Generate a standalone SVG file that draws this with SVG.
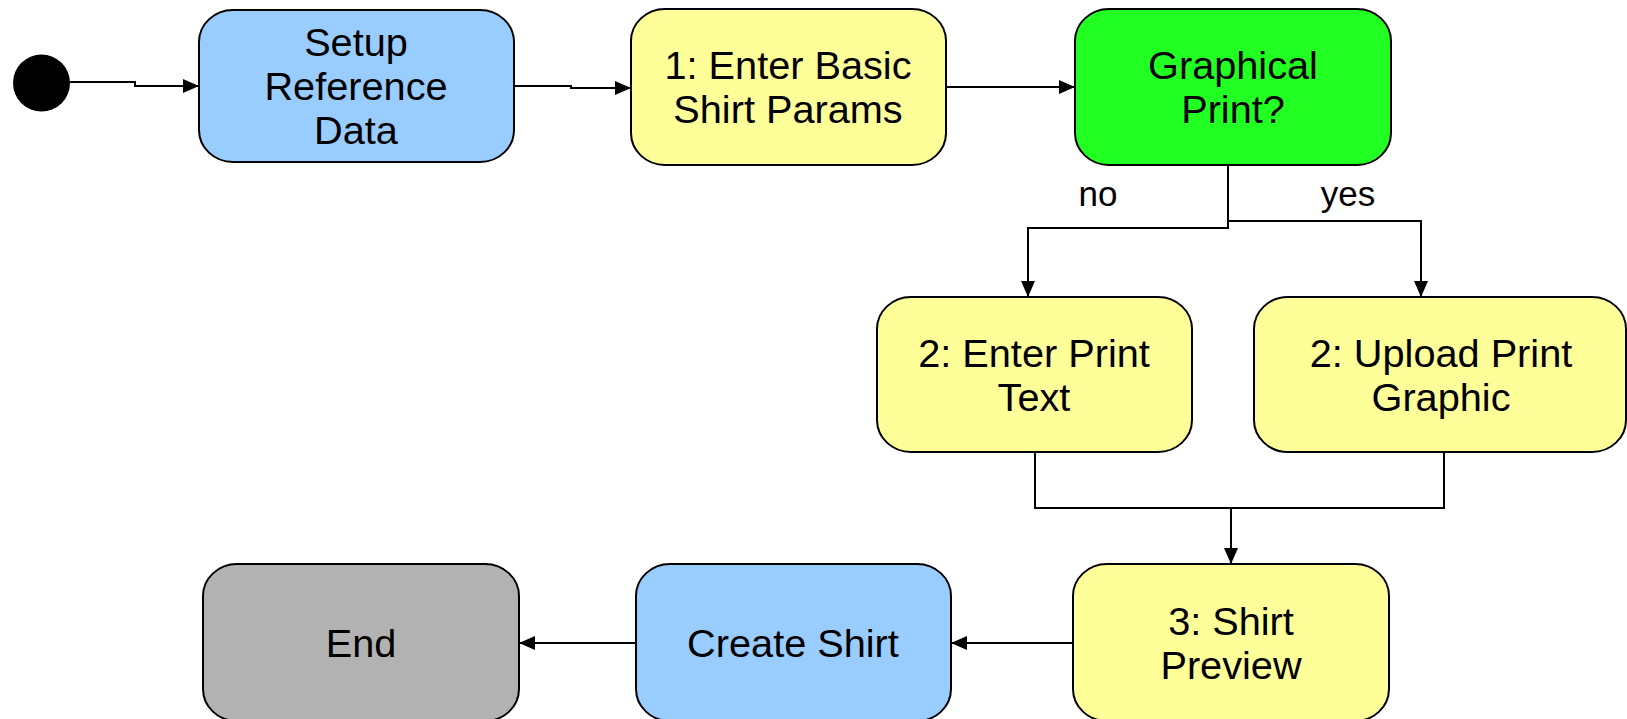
<svg xmlns="http://www.w3.org/2000/svg" width="1627" height="719" viewBox="0 0 1627 719">
<style>
.box{stroke:#000;stroke-width:2}
.blue{fill:#99CCFF}
.yellow{fill:#FFFF99}
.green{fill:#22FF22}
.gray{fill:#B2B2B2}
text{font-family:"Liberation Sans",Arial,sans-serif;font-size:39.7px;fill:#000;text-anchor:middle}
.lbl{font-size:35px}
.conn path{fill:none;stroke:#000;stroke-width:2}
</style>
<defs>
<marker id="arr" viewBox="0 0 16 14" refX="16" refY="7" markerWidth="16" markerHeight="14" markerUnits="userSpaceOnUse" orient="auto">
<path d="M0,0 L16,7 L0,14 Z" fill="#000"/>
</marker>
</defs>
<rect width="1627" height="719" fill="#fff"/>
<g class="conn">
<path d="M70,82 H135 V86 H199" marker-end="url(#arr)"/>
<path d="M514,86 H571 V88 H631" marker-end="url(#arr)"/>
<path d="M946,87 H1075" marker-end="url(#arr)"/>
<path d="M1228,165 V228 H1028 V297" marker-end="url(#arr)"/>
<path d="M1228,221 H1421 V297" marker-end="url(#arr)"/>
<path d="M1035,452 V508 H1444 V452"/>
<path d="M1231,508 V564" marker-end="url(#arr)"/>
<path d="M1073,643 H951" marker-end="url(#arr)"/>
<path d="M636,643 H519" marker-end="url(#arr)"/>
<text class="lbl" x="1098" y="206">no</text>
<text class="lbl" x="1348" y="206">yes</text>
</g>
<g id="start"><circle cx="41.5" cy="83" r="28.5" fill="#000"/></g>
<g id="setup"><rect class="box blue" x="199" y="10" width="315" height="152" rx="34" ry="32"/>
<text x="356" y="56">Setup<tspan x="356" dy="44">Reference</tspan><tspan x="356" dy="44">Data</tspan></text></g>
<g id="basic"><rect class="box yellow" x="631" y="9" width="315" height="156" rx="34" ry="32"/>
<text x="788" y="79">1: Enter Basic<tspan x="788" dy="44">Shirt Params</tspan></text></g>
<g id="graphical"><rect class="box green" x="1075" y="9" width="316" height="156" rx="34" ry="32"/>
<text x="1233" y="79">Graphical<tspan x="1233" dy="44">Print?</tspan></text></g>
<g id="entertext"><rect class="box yellow" x="877" y="297" width="315" height="155" rx="34" ry="32"/>
<text x="1034" y="367">2: Enter Print<tspan x="1034" dy="44">Text</tspan></text></g>
<g id="upload"><rect class="box yellow" x="1254" y="297" width="372" height="155" rx="34" ry="32"/>
<text x="1441" y="367">2: Upload Print<tspan x="1441" dy="44">Graphic</tspan></text></g>
<g id="preview"><rect class="box yellow" x="1073" y="564" width="316" height="157" rx="34" ry="32"/>
<text x="1231" y="635">3: Shirt<tspan x="1231" dy="44">Preview</tspan></text></g>
<g id="create"><rect class="box blue" x="636" y="564" width="315" height="157" rx="34" ry="32"/>
<text x="793" y="657">Create Shirt</text></g>
<g id="end"><rect class="box gray" x="203" y="564" width="316" height="157" rx="34" ry="32"/>
<text x="361" y="657">End</text></g>
</svg>
